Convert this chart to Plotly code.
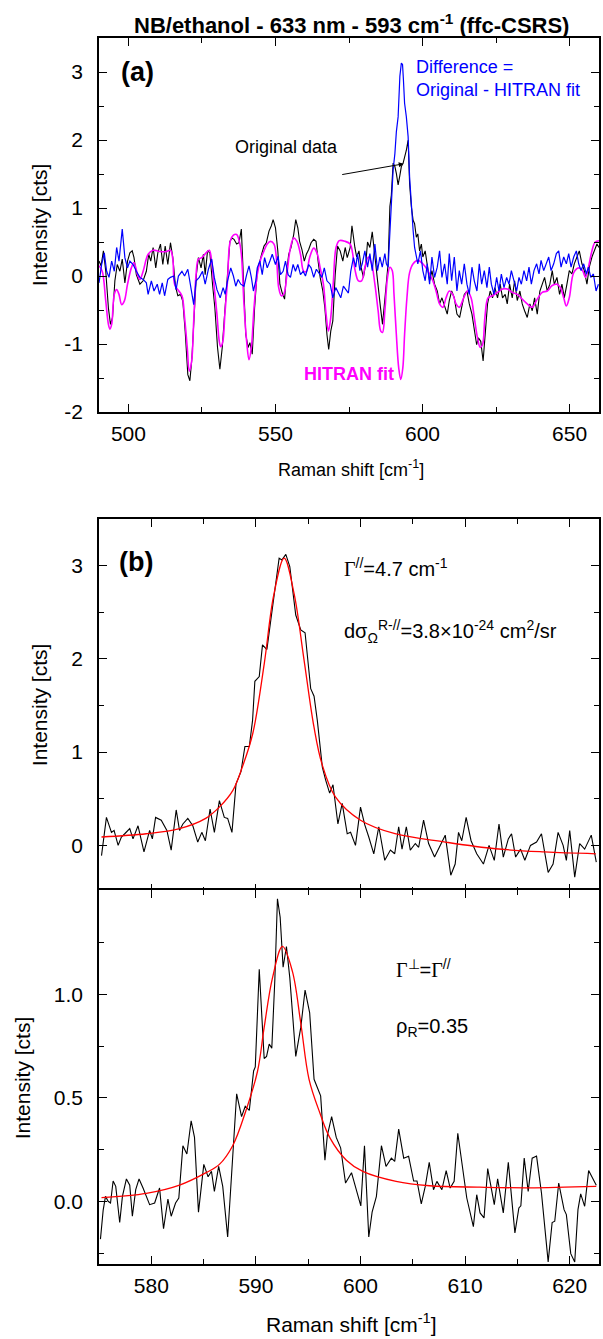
import plotly.graph_objects as go

# ---------------- Panel (a): full ffc-CSRS spectrum ----------------
# (Raman shift [cm-1], intensity [cts])
original_a = [
    (490.0, 0.22), (490.7, 0.15), (491.5, 0.37), (492.3, 0.07), (493.2, -0.47), (493.9, -0.71),
    (494.6, -0.61), (495.4, -0.07), (496.2, 0.17), (497.1, 0.07), (497.9, 0.25), (498.8, -0.10),
    (499.7, 0.22), (500.5, 0.34), (501.3, 0.37), (501.9, 0.27), (502.7, 0.02), (503.9, -0.12),
    (505.0, -0.07), (506.1, 0.07), (506.9, 0.32), (507.6, 0.22), (508.4, 0.42), (509.3, 0.12),
    (510.0, 0.34), (510.9, 0.47), (511.7, 0.17), (512.5, 0.44), (513.4, 0.17), (514.3, 0.49),
    (515.1, 0.27), (516.0, -0.15), (516.8, -0.29), (517.7, -0.27), (518.5, -0.37), (519.3, -0.81),
    (520.2, -1.45), (520.9, -1.54), (521.6, -1.20), (522.4, -0.51), (523.1, 0.02), (523.8, 0.27),
    (524.7, 0.12), (525.5, 0.32), (526.1, 0.02), (526.9, 0.37), (527.7, 0.34), (528.6, -0.12),
    (529.4, -0.47), (530.3, -1.05), (531.1, -1.37), (531.9, -1.05), (532.8, -0.47), (533.7, 0.02),
    (534.5, 0.51), (535.2, 0.56), (535.9, 0.54), (536.8, 0.47), (537.6, 0.49), (538.4, 0.69),
    (539.1, -0.02), (539.9, -0.86), (540.7, -1.05), (541.3, -0.98), (542.1, -1.15), (542.9, -0.47),
    (543.8, 0.07), (544.6, 0.22), (545.3, 0.32), (546.1, 0.44), (546.9, 0.49), (547.8, 0.66),
    (548.6, 0.74), (549.2, 0.83), (550.0, 0.71), (550.8, 0.37), (551.5, -0.12), (552.3, -0.25),
    (553.1, -0.34), (553.7, 0.02), (554.5, 0.32), (555.3, 0.42), (556.2, 0.61), (556.9, 0.83),
    (557.6, 0.71), (558.2, 0.51), (559.0, 0.39), (559.8, 0.22), (560.5, 0.32), (561.3, 0.39),
    (562.1, 0.49), (563.0, 0.54), (563.8, 0.51), (564.5, 0.22), (565.2, -0.02), (566.1, -0.22),
    (566.8, -0.47), (567.5, -0.86), (568.1, -1.08), (568.8, -0.81), (569.5, -0.66), (570.3, 0.02),
    (571.1, 0.44), (572.0, 0.37), (572.9, 0.22), (573.7, 0.42), (574.4, 0.27), (575.4, 0.42),
    (576.0, 0.74), (577.0, 0.42), (577.6, 0.28), (578.4, 0.37), (579.1, 0.13), (579.9, -0.02),
    (580.7, 0.18), (581.3, 0.50), (582.1, 0.42), (582.9, 0.65), (583.6, 0.37), (584.4, 0.08),
    (584.9, -0.22), (585.7, -0.46), (586.4, -0.71), (587.0, -0.41), (587.5, -0.12), (588.3, 0.18),
    (588.9, 1.02), (589.4, 1.19), (590.0, 1.66), (590.6, 1.61), (591.1, 1.51), (591.7, 1.34),
    (592.3, 1.48), (592.8, 1.61), (593.4, 1.66), (593.9, 1.73), (594.5, 1.85), (595.1, 2.00),
    (595.6, 1.36), (596.2, 1.02), (596.8, 0.82), (597.3, 0.77), (597.9, 0.57), (598.4, 0.62),
    (599.0, 0.37), (599.6, 0.47), (600.1, 0.28), (600.9, 0.37), (601.6, 0.13), (602.4, -0.07),
    (603.2, 0.08), (604.1, -0.12), (605.0, -0.22), (605.8, -0.41), (606.6, -0.32), (607.5, -0.46),
    (608.4, -0.56), (609.1, -0.36), (609.9, -0.22), (610.8, -0.32), (611.7, -0.56), (612.6, -0.61),
    (613.4, -0.41), (614.2, -0.27), (615.1, -0.22), (615.9, -0.41), (616.8, -0.56), (617.6, -0.81),
    (618.4, -1.01), (619.0, -0.91), (619.8, -0.96), (620.6, -1.25), (621.3, -0.86), (622.1, -0.41),
    (623.0, -0.22), (623.8, -0.32), (624.6, -0.17), (625.5, -0.32), (626.4, -0.12), (627.2, -0.32),
    (628.1, -0.27), (628.8, -0.41), (629.6, -0.12), (630.5, -0.32), (631.3, -0.07), (632.2, -0.36),
    (633.1, -0.22), (633.9, -0.41), (634.7, -0.51), (635.6, -0.61), (636.5, -0.41), (637.3, -0.51),
    (638.1, -0.32), (639.0, -0.56), (639.9, -0.22), (640.7, -0.12), (641.5, -0.02), (642.4, -0.22),
    (643.3, -0.12), (644.1, 0.08), (644.8, -0.12), (645.7, -0.02), (646.6, -0.27), (647.4, -0.12),
    (648.2, -0.32), (649.1, -0.12), (649.9, 0.08), (650.8, 0.03), (651.6, 0.18), (652.5, 0.28),
    (653.3, 0.37), (654.2, 0.18), (655.0, 0.08), (655.9, -0.12), (656.7, 0.13), (657.6, 0.28),
    (658.4, 0.37), (659.3, 0.47), (660.0, 0.42),
]

hitran_a = [
    (490.0, 0.15), (491.1, 0.07), (492.3, -0.37), (493.2, -0.71), (493.7, -0.78), (494.3, -0.71),
    (495.2, -0.27), (496.0, -0.20), (496.8, -0.27), (497.7, -0.42), (498.6, -0.37), (499.7, -0.12),
    (501.0, 0.12), (501.9, 0.20), (503.1, 0.02), (503.9, -0.05), (505.0, 0.07), (506.7, 0.32),
    (508.4, 0.38), (510.6, 0.36), (512.9, 0.36), (514.3, 0.38), (515.1, 0.25), (515.7, -0.12),
    (516.8, -0.20), (518.2, -0.29), (519.1, -0.61), (520.0, -1.05), (520.7, -1.40), (521.5, -1.25),
    (522.2, -0.66), (523.0, 0.02), (523.8, 0.25), (524.9, 0.27), (526.4, 0.34), (527.5, 0.38),
    (528.3, 0.22), (529.2, -0.17), (530.1, -0.56), (530.9, -0.96), (531.4, -1.04), (532.1, -0.96),
    (532.8, -0.56), (533.7, -0.07), (534.6, 0.51), (535.7, 0.60), (536.8, 0.61), (537.7, 0.51),
    (538.4, 0.32), (539.3, -0.42), (540.2, -0.96), (541.0, -1.23), (541.8, -1.05), (542.7, -0.47),
    (543.8, 0.02), (545.0, 0.25), (546.1, 0.37), (547.2, 0.47), (548.3, 0.51), (549.5, 0.47),
    (550.4, 0.22), (551.1, -0.17), (552.0, -0.29), (552.8, -0.27), (554.0, 0.07), (555.1, 0.42),
    (556.2, 0.56), (557.3, 0.51), (558.5, 0.32), (559.6, 0.07), (560.5, 0.07), (561.6, 0.27),
    (563.0, 0.41), (564.1, 0.34), (565.2, 0.12), (566.3, -0.12), (567.2, -0.56), (568.0, -0.81),
    (568.8, -0.61), (569.7, -0.07), (570.6, 0.42), (571.7, 0.52), (573.7, 0.51), (575.4, 0.47),
    (576.2, 0.34), (577.0, 0.10), (578.2, -0.07), (579.3, -0.07), (580.4, 0.13), (581.6, 0.28),
    (582.7, 0.18), (583.8, -0.12), (584.9, -0.51), (585.8, -0.81), (586.4, -0.83), (587.2, -0.51),
    (588.1, -0.02), (588.9, 0.13), (589.7, 0.08), (590.3, -0.27), (591.1, -0.86), (591.9, -1.35),
    (592.6, -1.52), (593.3, -1.35), (593.9, -0.86), (594.7, -0.32), (595.6, 0.05), (596.8, 0.18),
    (598.4, 0.23), (600.1, 0.18), (601.8, 0.08), (603.5, -0.07), (604.6, -0.22), (605.8, -0.41),
    (606.9, -0.46), (608.0, -0.32), (609.1, -0.22), (610.3, -0.27), (611.4, -0.41), (612.5, -0.46),
    (614.0, -0.32), (615.3, -0.22), (616.5, -0.32), (617.6, -0.61), (618.7, -0.91), (619.6, -1.05),
    (620.4, -1.01), (621.2, -0.61), (622.3, -0.32), (623.8, -0.29), (625.5, -0.24), (627.2, -0.19),
    (628.8, -0.19), (630.5, -0.24), (632.2, -0.27), (633.9, -0.34), (635.6, -0.41), (637.3, -0.46),
    (639.0, -0.34), (640.7, -0.24), (642.4, -0.22), (644.1, -0.14), (645.7, -0.12), (646.9, -0.17),
    (648.0, -0.32), (648.9, -0.44), (649.9, -0.32), (651.4, 0.05), (653.1, 0.12), (654.4, 0.08),
    (655.4, -0.02), (656.5, 0.15), (657.6, 0.37), (658.7, 0.50), (660.0, 0.52),
]

difference_a = [
    (490.0, -0.10), (490.9, 0.17), (491.8, 0.34), (492.6, 0.07), (493.4, -0.02), (494.3, 0.22),
    (495.2, 0.07), (496.0, 0.42), (496.8, 0.22), (497.9, 0.69), (498.8, 0.27), (499.7, 0.12),
    (500.5, 0.22), (501.6, 0.17), (502.7, 0.07), (503.9, -0.02), (505.0, -0.05), (506.1, -0.10),
    (506.7, -0.27), (507.8, -0.07), (508.7, -0.22), (509.8, -0.12), (510.6, -0.27), (511.5, -0.10),
    (512.3, -0.29), (513.4, -0.05), (514.3, -0.02), (515.4, 0.00), (516.2, -0.20), (517.0, 0.00),
    (518.2, 0.07), (519.1, 0.00), (520.2, 0.10), (521.3, -0.22), (522.2, -0.42), (523.0, -0.07),
    (524.1, -0.02), (525.2, 0.07), (526.1, -0.12), (527.2, 0.10), (528.3, 0.25), (529.2, -0.02),
    (530.1, -0.20), (531.2, -0.32), (532.2, -0.17), (532.9, -0.27), (533.7, -0.07), (534.8, 0.12),
    (535.7, 0.00), (536.5, -0.15), (537.3, -0.05), (538.2, -0.12), (539.3, -0.15), (540.2, 0.02),
    (541.0, 0.15), (541.8, -0.02), (542.5, -0.22), (543.3, -0.07), (543.8, 0.12), (544.7, 0.22),
    (545.5, 0.02), (546.3, 0.27), (547.2, 0.12), (548.1, 0.22), (548.9, 0.32), (550.0, 0.17),
    (550.9, 0.29), (551.7, 0.02), (552.6, 0.07), (553.4, 0.22), (554.3, 0.02), (555.1, -0.02),
    (556.0, 0.17), (556.8, 0.07), (557.6, 0.17), (558.5, 0.02), (559.4, 0.07), (560.2, 0.00),
    (561.3, 0.17), (562.1, 0.12), (563.0, -0.02), (563.9, 0.10), (565.0, 0.02), (565.8, -0.02),
    (566.6, 0.12), (567.5, -0.07), (568.6, -0.12), (569.5, -0.32), (570.5, -0.17), (571.4, -0.25),
    (572.2, -0.32), (573.1, -0.15), (574.0, -0.20), (574.8, -0.25), (575.6, 0.07), (576.5, 0.27),
    (577.3, 0.13), (577.9, 0.33), (578.7, 0.08), (579.5, 0.18), (580.4, 0.37), (581.3, 0.13),
    (582.1, 0.33), (582.9, 0.08), (583.8, 0.47), (584.7, 0.08), (585.5, 0.28), (586.3, 0.13),
    (587.2, 0.33), (587.7, 0.18), (588.3, 0.13), (588.9, 0.72), (589.4, 1.21), (590.0, 1.56),
    (590.6, 1.80), (591.1, 2.12), (591.7, 2.34), (592.3, 2.94), (592.8, 3.13), (593.2, 3.11),
    (593.5, 2.89), (593.9, 2.54), (594.5, 2.34), (595.1, 2.05), (595.6, 1.46), (596.2, 0.97),
    (596.8, 0.67), (597.3, 0.42), (597.9, 0.28), (598.4, 0.18), (599.3, 0.37), (600.1, 0.08),
    (600.9, -0.07), (601.6, 0.18), (602.4, -0.12), (603.2, 0.28), (604.1, -0.02), (605.0, 0.13),
    (605.8, 0.37), (606.6, -0.02), (607.5, 0.18), (608.4, -0.12), (609.1, 0.33), (609.9, -0.07),
    (610.8, 0.28), (611.7, -0.22), (612.5, 0.08), (613.3, -0.12), (614.2, 0.18), (615.1, -0.12),
    (615.9, -0.27), (616.8, 0.13), (617.6, -0.07), (618.5, -0.22), (619.3, 0.18), (620.1, -0.12),
    (621.0, 0.08), (621.9, -0.17), (622.7, 0.13), (623.4, -0.12), (624.3, -0.27), (625.2, -0.02),
    (626.0, -0.22), (626.8, 0.03), (627.7, -0.17), (628.6, -0.02), (629.4, -0.12), (630.2, 0.08),
    (631.1, -0.07), (632.0, -0.22), (632.8, -0.02), (633.6, -0.12), (634.5, 0.08), (635.4, -0.07),
    (636.2, 0.13), (637.0, -0.12), (637.9, 0.08), (638.8, 0.18), (639.6, 0.03), (640.3, 0.23),
    (641.2, 0.08), (642.1, 0.18), (642.9, 0.28), (643.7, 0.08), (644.6, 0.18), (645.5, 0.33),
    (646.3, 0.37), (647.1, 0.13), (648.0, 0.28), (648.9, 0.18), (649.7, 0.33), (650.5, 0.13),
    (651.4, 0.28), (652.3, 0.37), (653.1, 0.18), (653.9, 0.08), (654.8, 0.18), (655.7, 0.03),
    (656.4, 0.13), (657.2, -0.02), (658.1, 0.03), (659.0, -0.22), (659.8, -0.12),
]

# ---------------- Panel (b): parallel component with Lorentzian fit ----------------
parallel_b = [
    (575.24, -0.11), (575.71, 0.30), (576.19, 0.14), (576.44, 0.16), (576.83, 0.00), (577.14, 0.09),
    (577.46, 0.125), (577.94, 0.18), (578.25, 0.07), (578.73, 0.21), (579.30, -0.07), (579.84, 0.16),
    (580.10, 0.07), (580.41, 0.30), (580.95, 0.27), (581.49, 0.16), (581.90, -0.05), (582.38, 0.38),
    (582.70, 0.16), (583.02, 0.23), (583.49, 0.29), (583.97, 0.21), (584.44, 0.036), (584.83, 0.14),
    (585.17, 0.05), (585.62, 0.39), (586.03, 0.14), (586.51, 0.48), (586.98, 0.30), (587.30, 0.29),
    (587.71, 0.14), (588.10, 0.66), (588.57, 0.79), (588.95, 1.06), (589.37, 1.06), (589.68, 1.34),
    (589.90, 1.76), (590.32, 1.81), (590.63, 2.15), (591.05, 2.10), (591.43, 2.42), (591.90, 2.85),
    (592.22, 3.08), (592.48, 3.06), (592.86, 3.12), (593.24, 2.99), (593.81, 2.47), (594.29, 2.31),
    (594.70, 2.28), (595.24, 1.68), (595.56, 1.60), (595.87, 1.34), (596.35, 0.84), (596.67, 0.70),
    (597.05, 0.56), (597.37, 0.65), (597.84, 0.23), (598.25, 0.45), (598.73, 0.125), (599.05, 0.14),
    (599.52, 0.00), (600.00, 0.41), (600.41, 0.22), (600.79, 0.09), (601.27, -0.09), (601.75, 0.20),
    (602.32, -0.16), (602.86, -0.05), (603.27, -0.09), (603.65, 0.20), (603.97, -0.04), (604.38, 0.20),
    (604.76, -0.05), (605.24, 0.02), (605.56, -0.02), (606.03, 0.27), (606.51, 0.02), (607.08, -0.125),
    (607.46, -0.04), (608.10, 0.11), (608.63, -0.32), (609.05, -0.20), (609.37, 0.14), (609.68, 0.05),
    (610.10, 0.30), (610.57, 0.05), (611.11, -0.09), (611.75, -0.20), (612.29, 0.00), (612.79, -0.16),
    (613.24, 0.23), (613.65, -0.125), (614.13, 0.07), (614.44, 0.125), (614.83, -0.125), (615.30, -0.04),
    (615.71, -0.16), (616.25, 0.00), (616.83, 0.036), (617.30, 0.125), (617.94, -0.29), (618.41, -0.20),
    (618.89, 0.14), (619.37, 0.00), (619.68, -0.16), (620.00, 0.16), (620.48, -0.34), (620.95, 0.02),
    (621.43, -0.04), (622.06, 0.11), (622.54, -0.18),
]

parallel_fit_b = [
    (575.24, 0.09), (579.52, 0.125), (582.7, 0.18), (585.2, 0.29), (586.5, 0.41), (587.8, 0.59),
    (588.7, 0.84), (589.7, 1.20), (590.8, 1.95), (591.7, 2.68), (592.7, 3.08), (593.65, 2.70),
    (594.6, 1.99), (595.55, 1.27), (596.3, 0.88), (597.6, 0.52), (600.0, 0.27), (603.3, 0.125),
    (608.1, 0.036), (612.9, -0.036), (617.6, -0.07), (622.5, -0.09),
]

# ---------------- Panel (c): perpendicular component with Lorentzian fit ----------------
perpendicular_c = [
    (575.14, -0.18), (575.40, -0.04), (575.62, 0.026), (575.87, 0.002), (576.10, -0.006), (576.35, 0.10),
    (576.60, 0.074), (576.98, -0.10), (577.24, 0.026), (577.62, 0.11), (577.94, 0.08), (578.19, -0.07),
    (578.51, 0.058), (578.83, 0.11), (579.21, 0.066), (579.84, -0.014), (580.32, -0.006), (580.79, 0.066),
    (581.17, -0.13), (581.59, 0.013), (581.90, -0.07), (582.32, -0.006), (582.63, 0.018), (583.02, 0.27),
    (583.40, 0.23), (583.81, 0.39), (584.13, 0.31), (584.51, -0.05), (585.02, 0.18), (585.43, 0.12),
    (585.75, 0.147), (586.03, 0.05), (586.44, 0.17), (586.83, 0.074), (587.30, -0.17), (587.71, 0.154),
    (588.16, 0.52), (588.63, 0.41), (588.98, 0.46), (589.37, 0.44), (589.78, 0.63), (589.94, 0.65),
    (590.32, 1.12), (590.79, 0.69), (591.02, 0.70), (591.27, 0.76), (591.52, 0.74), (591.81, 1.07),
    (592.06, 1.46), (592.32, 1.37), (592.60, 1.13), (592.92, 1.23), (593.24, 1.08), (593.81, 0.70),
    (594.29, 0.84), (594.70, 1.02), (595.14, 0.91), (595.56, 0.59), (595.71, 0.57), (596.19, 0.51),
    (596.60, 0.20), (596.83, 0.32), (597.24, 0.41), (597.68, 0.31), (598.10, 0.26), (598.57, 0.09),
    (599.14, 0.14), (599.68, 0.04), (600.03, -0.02), (600.38, 0.27), (600.79, -0.17), (601.11, -0.05),
    (601.52, 0.026), (602.00, 0.27), (602.44, 0.17), (602.95, 0.21), (603.27, 0.194), (603.65, 0.35),
    (604.13, 0.21), (604.60, 0.219), (605.08, 0.10), (605.40, 0.10), (605.81, -0.01), (606.19, 0.074),
    (606.57, 0.19), (606.98, 0.058), (607.30, 0.098), (607.78, 0.058), (608.19, 0.15), (608.57, 0.066),
    (608.95, 0.098), (609.30, 0.33), (609.68, 0.20), (610.16, 0.018), (610.79, -0.12), (611.11, 0.034),
    (611.43, -0.054), (611.81, -0.078), (612.16, 0.16), (612.54, 0.042), (612.79, -0.014), (613.11, 0.11),
    (613.65, -0.054), (614.13, 0.19), (614.76, -0.15), (615.14, -0.03), (615.33, -0.02), (615.65, 0.21),
    (616.03, 0.05), (616.41, 0.21), (616.83, 0.22), (617.30, 0.042), (617.94, -0.29), (618.32, -0.10),
    (618.57, -0.094), (618.95, 0.09), (619.46, -0.038), (619.68, -0.062), (620.10, -0.25), (620.48, -0.29),
    (620.79, -0.038), (621.05, 0.038), (621.43, -0.022), (621.81, 0.15), (622.22, 0.106), (622.54, 0.08),
]

perpendicular_fit_c = [
    (575.24, 0.02), (579.52, 0.04), (582.7, 0.08), (585.24, 0.14), (586.51, 0.18), (587.78, 0.27),
    (589.05, 0.44), (590.16, 0.63), (590.79, 0.84), (591.59, 1.08), (592.54, 1.23), (593.49, 1.11),
    (594.29, 0.86), (595.08, 0.59), (596.10, 0.43), (597.05, 0.31), (598.65, 0.20), (600.22, 0.146),
    (603.4, 0.098), (606.6, 0.077), (611.4, 0.07), (616.1, 0.067), (622.54, 0.074),
]

# Axis ranges and tick labels
range_a_x, range_a_y = [490, 660], [-2, 3.5]
range_bc_x = [575, 622.8]
range_b_y, range_c_y = [-0.5, 3.5], [-0.3, 1.5]
ticks_a_y = [-2, -1, 0, 1, 2, 3]
labels_a_y = ["-2", "-1", "0", "1", "2", "3"]
ticks_b_y = [0, 1, 2, 3]
labels_b_y = ["0", "1", "2", "3"]
ticks_c_y = [0.0, 0.5, 1.0]
labels_c_y = ["0.0", "0.5", "1.0"]


def cols(pairs):
    return [p[0] for p in pairs], [p[1] for p in pairs]


FONT = "Arial, Liberation Sans, sans-serif"
SERIF = "Times New Roman, Liberation Serif, serif"

fig = go.Figure()

x, y = cols(original_a)
fig.add_trace(go.Scatter(x=x, y=y, mode="lines", line=dict(color="black", width=1.1),
                         xaxis="x", yaxis="y", showlegend=False))
x, y = cols(hitran_a)
fig.add_trace(go.Scatter(x=x, y=y, mode="lines", line=dict(color="#FF00FF", width=1.6, shape="spline"),
                         xaxis="x", yaxis="y", showlegend=False))
x, y = cols(difference_a)
fig.add_trace(go.Scatter(x=x, y=y, mode="lines", line=dict(color="#0000FF", width=1.2),
                         xaxis="x", yaxis="y", showlegend=False))

x, y = cols(parallel_b)
fig.add_trace(go.Scatter(x=x, y=y, mode="lines", line=dict(color="black", width=1.1),
                         xaxis="x2", yaxis="y2", showlegend=False))
x, y = cols(parallel_fit_b)
fig.add_trace(go.Scatter(x=x, y=y, mode="lines", line=dict(color="#FF0000", width=1.3, shape="spline"),
                         xaxis="x2", yaxis="y2", showlegend=False))

x, y = cols(perpendicular_c)
fig.add_trace(go.Scatter(x=x, y=y, mode="lines", line=dict(color="black", width=1.1),
                         xaxis="x3", yaxis="y3", showlegend=False))
x, y = cols(perpendicular_fit_c)
fig.add_trace(go.Scatter(x=x, y=y, mode="lines", line=dict(color="#FF0000", width=1.3, shape="spline"),
                         xaxis="x3", yaxis="y3", showlegend=False))


def axis(rng, dtick, minor, domain=None, labels=True, anchor=None, standoff=3,
         tickvals=None, ticktext=None):
    d = dict(range=rng, showline=True, linecolor="black", linewidth=1.6,
             mirror="ticks", ticks="inside", ticklen=8, tickwidth=1.3, tickcolor="black",
             minor=dict(ticks="inside", ticklen=5, tickwidth=1.3, tickcolor="black",
                        tickmode="linear", dtick=minor, tick0=0),
             showgrid=False, zeroline=False, showticklabels=labels,
             tickfont=dict(family=FONT, size=21, color="black"), ticklabelstandoff=standoff)
    if tickvals is not None:
        d.update(tickmode="array", tickvals=tickvals, ticktext=ticktext)
    else:
        d.update(tickmode="linear", dtick=dtick, tick0=0)
    if domain is not None:
        d["domain"] = domain
    if anchor:
        d["anchor"] = anchor
    return d


# Panel heights in paper units (plot area spans 1226 px); (c) overlaps (b)
# by one line width so the shared border is drawn as a single line
dom_a = [0.6949, 1.0]
dom_b = [0.3034, 0.6077]
dom_c = [0.0, 0.3047]

fig.update_layout(
    width=603, height=1339,
    margin=dict(l=99, r=2, t=38, b=75),
    paper_bgcolor="white", plot_bgcolor="white",
    font=dict(family=FONT, color="black"),
    xaxis=axis(range_a_x, 50, 25, anchor="y", standoff=2),
    yaxis=axis(range_a_y, 1, 0.5, domain=dom_a, anchor="x", standoff=10,
               tickvals=ticks_a_y, ticktext=labels_a_y),
    xaxis2=axis(range_bc_x, 10, 5, labels=False, anchor="y2"),
    yaxis2=axis(range_b_y, 1, 0.5, domain=dom_b, anchor="x2", standoff=10,
                tickvals=ticks_b_y, ticktext=labels_b_y),
    xaxis3=axis(range_bc_x, 10, 5, anchor="y3", standoff=2),
    yaxis3=axis(range_c_y, 0.5, 0.25, domain=dom_c, anchor="x3", standoff=10,
                tickvals=ticks_c_y, ticktext=labels_c_y),
)


def ann(text, x, y, size, color="black", xanchor="left", angle=0, bold=False):
    if bold:
        text = "<b>" + text + "</b>"
    fig.add_annotation(text=text, x=x, y=y, xref="paper", yref="paper", xanchor=xanchor,
                       yanchor="middle", showarrow=False, textangle=angle,
                       font=dict(family=FONT, size=size, color=color))


# Title and axis titles
ann("NB/ethanol - 633 nm - 593 cm<sup>-1</sup> (ffc-CSRS)", 0.504, 1.0114, 22, xanchor="center", bold=True)
ann("Raman shift [cm<sup>-1</sup>]", 0.504, 0.6485, 18, xanchor="center")
ann("Raman shift [cm<sup>-1</sup>]", 0.504, -0.0485, 21, xanchor="center")
ann("Intensity [cts]", -0.1175, 0.8475, 21, xanchor="center", angle=-90)
ann("Intensity [cts]", -0.1175, 0.456, 21, xanchor="center", angle=-90)
ann("Intensity [cts]", -0.1534, 0.1517, 21, xanchor="center", angle=-90)

# Panel (a) labels
ann("(a)", 0.040, 0.9723, 27, bold=True)
ann("Difference =", 0.6295, 0.9763, 18, color="#0000FF")
ann("Original - HITRAN fit", 0.6295, 0.9576, 18, color="#0000FF")
ann("Original data", 0.267, 0.911, 18)
ann("HITRAN fit", 0.406, 0.726, 18, color="#FF00FF", bold=True)
fig.add_annotation(x=593.6, y=1.65, xref="x", yref="y", text="", showarrow=True,
                   ax=-63, ay=11, arrowhead=2, arrowsize=1, arrowwidth=1, arrowcolor="black")

# Panel (b) labels
G = '<span style="font-family:%s">Γ</span>' % SERIF
ann("(b)", 0.036, 0.5726, 27, bold=True)
ann(G + "<sup>//</sup>=4.7 cm<sup>-1</sup>", 0.486, 0.5685, 20)
ann("dσ<sub>Ω</sub><sup>R-//</sup>=3.8×10<sup>-24</sup> cm<sup>2</sup>/sr", 0.486, 0.5155, 20)

# Panel (c) labels
ann(G + "<sup>⊥</sup>=" + G + "<sup>//</sup>", 0.5896, 0.2414, 20)
ann("ρ<sub>R</sub>=0.35", 0.5896, 0.1933, 20)

fig.write_html("out.html")
